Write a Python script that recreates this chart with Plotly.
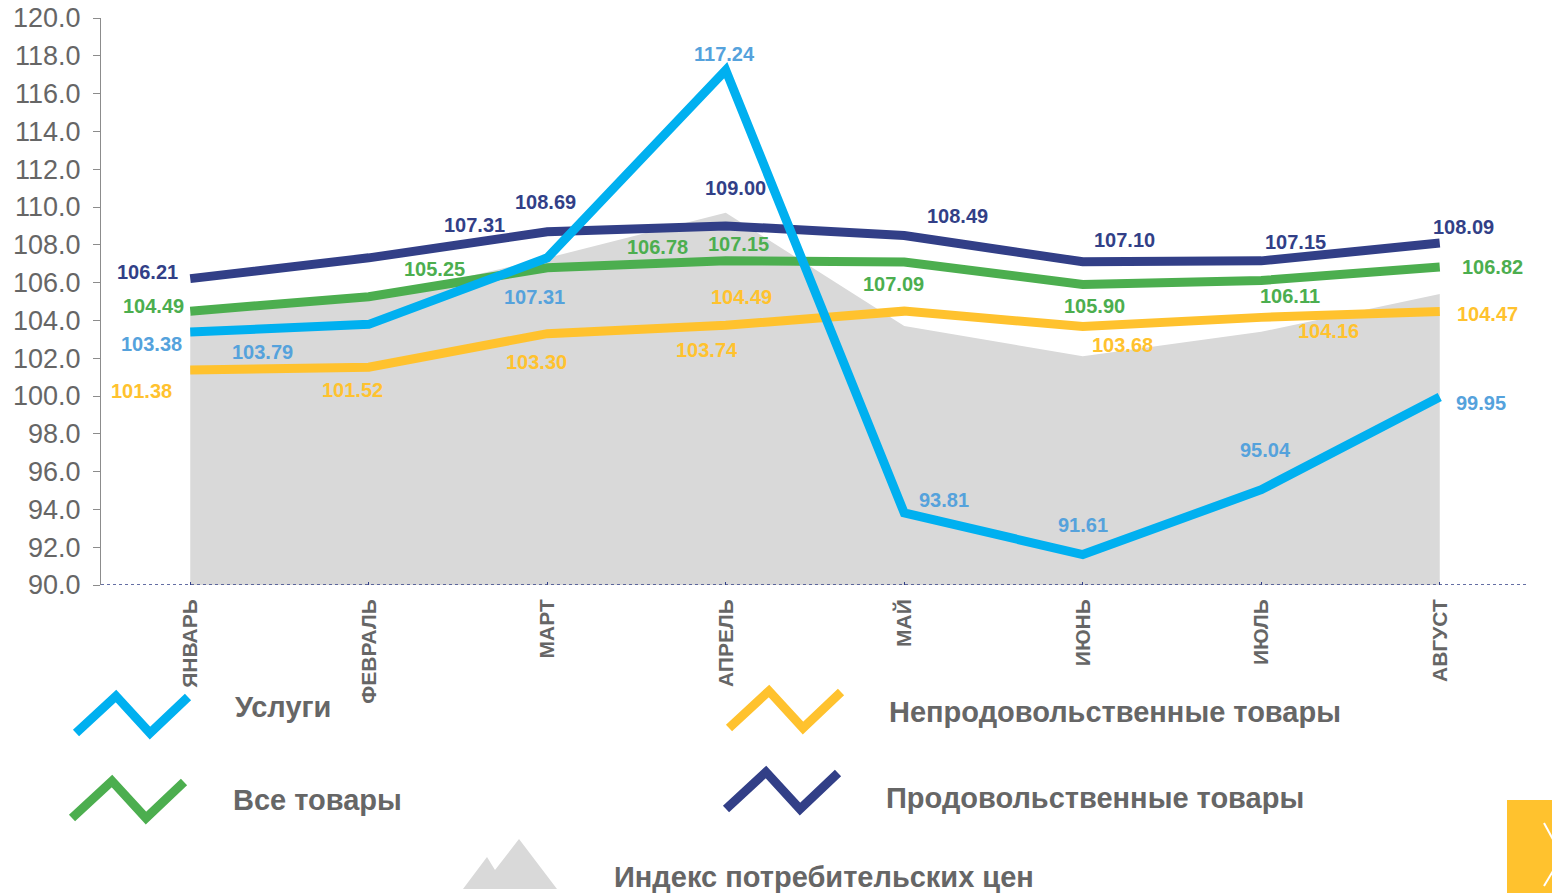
import plotly.graph_objects as go

# ==========================================
# DATA
# ==========================================

months = ["ЯНВАРЬ", "ФЕВРАЛЬ", "МАРТ", "АПРЕЛЬ", "МАЙ", "ИЮНЬ", "ИЮЛЬ", "АВГУСТ"]

cpi = [104.3, 105.1, 107.3, 109.7, 103.7, 102.1, 103.4, 105.4]
services = [103.38, 103.79, 107.31, 117.24, 93.81, 91.61, 95.04, 99.95]
all_goods = [104.49, 105.25, 106.78, 107.15, 107.09, 105.90, 106.11, 106.82]
non_food = [101.38, 101.52, 103.30, 103.74, 104.49, 103.68, 104.16, 104.47]
food = [106.21, 107.31, 108.69, 109.00, 108.49, 107.10, 107.15, 108.09]

y_ticks = [90, 92, 94, 96, 98, 100, 102, 104, 106, 108, 110, 112, 114, 116, 118, 120]

# label offsets in pixels (dx, dy where dy>0 means down)
services_off = [(-39, 12), (-106, 28), (-13, 39), (-1, -16), (40, -13), (0, -30), (4, -40), (41, 6)]
all_goods_off = [(-37, -5), (66, -28), (110, -21), (13, -17), (-11, 22), (12, 22), (29, 15), (53, 0)]
non_food_off = [(-49, 21), (-16, 23), (-11, 28), (-19, 25), (-163, -14), (40, 19), (67, 14), (48, 2)]
food_off = [(-43, -7), (106, -33), (-2, -30), (10, -38), (53, -20), (42, -22), (34, -19), (24, -16)]

# ==========================================
# STYLE
# ==========================================

FONT = "Liberation Sans"
GREY_TXT = "#666666"
C_SERV = "#00B0F0"
C_GOODS = "#4CAE4F"
C_NONFOOD = "#FFC22E"
C_FOOD = "#323F87"
C_AREA = "#D9D9D9"

W, H = 1552, 893
ML, MR, MT, MB = 101, 23, 18, 308
PW, PH = W - ML - MR, H - MT - MB


def px(x):
    return (x - ML) / PW


def py(y):
    return (H - MB - y) / PH


fig = go.Figure()

fig.add_trace(
    go.Scatter(
        x=months, y=cpi, mode="lines", fill="tozeroy",
        fillcolor=C_AREA, line=dict(width=0, color=C_AREA),
        hoverinfo="skip"
    )
)

series = [
    (non_food, C_NONFOOD, C_NONFOOD, non_food_off),
    (all_goods, C_GOODS, C_GOODS, all_goods_off),
    (food, C_FOOD, C_FOOD, food_off),
    (services, C_SERV, "#55A2DC", services_off),
]

for vals, color, lab_color, offs in series:
    fig.add_trace(
        go.Scatter(
            x=months, y=vals, mode="lines",
            line=dict(width=9, color=color),
        )
    )
    for m, v, (dx, dy) in zip(months, vals, offs):
        fig.add_annotation(
            x=m, y=v, text=f"{v:.2f}", showarrow=False,
            xshift=dx, yshift=-dy, xanchor="center", yanchor="middle",
            font=dict(family=FONT, size=20, color=lab_color, weight="bold")
        )

# dotted x axis line
fig.add_shape(
    type="line", xref="paper", yref="y", x0=0, x1=1, y0=90, y1=90,
    line=dict(color=C_FOOD, width=1.5, dash="dot")
)

# ==========================================
# CUSTOM LEGEND
# ==========================================

def zz(x0, y0, color):
    pts = [(x0, y0 + 37), (x0 + 40, y0), (x0 + 74, y0 + 37), (x0 + 112, y0 + 1)]
    path = "M " + " L ".join(f"{px(a):.5f},{py(b):.5f}" for a, b in pts)
    fig.add_shape(
        type="path", xref="paper", yref="paper", path=path,
        line=dict(color=color, width=9)
    )


zz(76, 696, C_SERV)
zz(72, 781, C_GOODS)
zz(729, 691, C_NONFOOD)
zz(726, 772, C_FOOD)

mountain = [(463, 889), (487, 857), (495, 870), (519, 839), (557, 889)]
fig.add_shape(
    type="path", xref="paper", yref="paper",
    path="M " + " L ".join(f"{px(a):.5f},{py(b):.5f}" for a, b in mountain) + " Z",
    fillcolor=C_AREA, line=dict(width=0)
)

legend_texts = [
    ("Услуги", 233, 707),
    ("Все товары", 231, 800),
    ("Непродовольственные товары", 887, 712),
    ("Продовольственные товары", 884, 798),
    ("Индекс потребительских цен", 612, 877),
]
for t, x, y in legend_texts:
    fig.add_annotation(
        x=px(x), y=py(y), xref="paper", yref="paper", text=t,
        showarrow=False, xanchor="left", yanchor="middle",
        font=dict(family=FONT, size=29, color=GREY_TXT, weight="bold")
    )

# yellow corner box
fig.add_shape(
    type="rect", xref="paper", yref="paper",
    x0=px(1507), x1=px(1560), y0=py(800), y1=py(900),
    fillcolor="#FFC22E", line=dict(width=0)
)
fig.add_shape(
    type="path", xref="paper", yref="paper",
    path=f"M {px(1544):.5f},{py(823):.5f} L {px(1556):.5f},{py(845):.5f}",
    line=dict(color="white", width=2)
)
fig.add_shape(
    type="path", xref="paper", yref="paper",
    path=f"M {px(1556):.5f},{py(866):.5f} L {px(1544):.5f},{py(886):.5f}",
    line=dict(color="white", width=2)
)

fig.update_layout(
    width=W, height=H,
    margin=dict(l=ML, r=MR, t=MT, b=MB, autoexpand=False),
    paper_bgcolor="white",
    plot_bgcolor="white",
    showlegend=False,
    font=dict(family=FONT),
    xaxis=dict(
        type="category", range=[-0.5, 7.5], automargin=False,
        showgrid=False, zeroline=False, showline=False,
        ticks="inside", ticklen=3, tickcolor=C_FOOD,
        tickangle=-90, ticklabelstandoff=9,
        tickfont=dict(family=FONT, size=21, color=GREY_TXT, weight="bold"),
    ),
    yaxis=dict(
        range=[90, 120], tickvals=y_ticks, tickformat=".1f", automargin=False,
        showgrid=False, zeroline=False,
        showline=True, linecolor="#8C8C8C", linewidth=1,
        ticks="outside", ticklen=7, tickcolor="#8C8C8C", ticklabelstandoff=7,
        tickfont=dict(family=FONT, size=27, color=GREY_TXT),
    ),
)

fig.write_html("out.html", config={"displayModeBar": False},
               post_script="document.body.style.margin='0px';")
